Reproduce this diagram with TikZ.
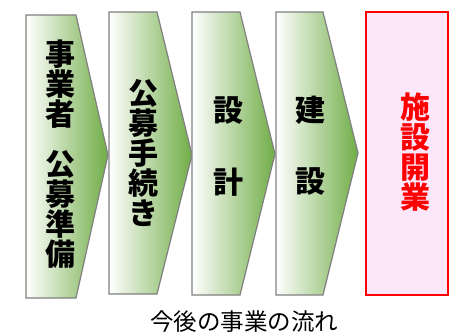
\documentclass[tikz,border=0pt]{standalone}
\usepackage{fontspec}
\newfontfamily\jp{Noto Sans CJK JP}
\usetikzlibrary{positioning,calc}
\definecolor{stepgreen}{RGB}{112,173,71}
\definecolor{stepline}{RGB}{128,128,128}
\definecolor{openpink}{RGB}{252,230,250}
% chevron: left x, top y, bottom y, corner x, tip x, tip y
\newcommand*{\chev}[6]{%
  \shade[stepbox] (#1,#2) -- (#4,#2) -- (#5,#6) -- (#4,#3) -- (#1,#3) -- cycle;}

\begin{document}
\begin{tikzpicture}[x=1pt, y=-1pt]
\tikzstyle{stepbox}=[draw=stepline, line width=1.2pt, left color=white, right color=stepgreen]
\tikzstyle{vtext}=[align=center, inner sep=0pt, font=\jp\bfseries\fontsize{30}{30}\selectfont]
\tikzstyle{caption}=[inner sep=0pt, font=\jp\fontsize{23.5}{25}\selectfont]
\useasboundingbox (0,0) rectangle (449,336);
\chev{26}{15}{298}{76}{108}{155}
\chev{109}{12}{294}{157}{192}{155}
\chev{192}{12}{295}{240}{275}{154}
\chev{276}{12}{295}{323}{358}{153}
\draw[red, line width=1.3pt, fill=openpink] (366,12) rectangle (448,295);
\node[vtext]    (jigyo)    at (60,84)   {事\\業\\者};
\node[vtext]    (junbi)    at (60,209)  {公\\募\\準\\備};
\node[vtext]    (koubo)    at (143,153) {公\\募\\手\\続\\き};
\node[vtext]    (sek1)     at (228,110) {設};
\node[vtext]    (sek2)     [below=72pt of sek1.north, anchor=north] {計};
\node[vtext]    (ken1)     at (310,110) {建};
\node[vtext]    (ken2)     [below=72pt of ken1.north, anchor=north] {設};
\node[vtext, text=red] (kaigyo) at (415,152) {施\\設\\開\\業};
\node[caption]  (title)    at (244,322) {今後の事業の流れ};
\end{tikzpicture}
\end{document}
